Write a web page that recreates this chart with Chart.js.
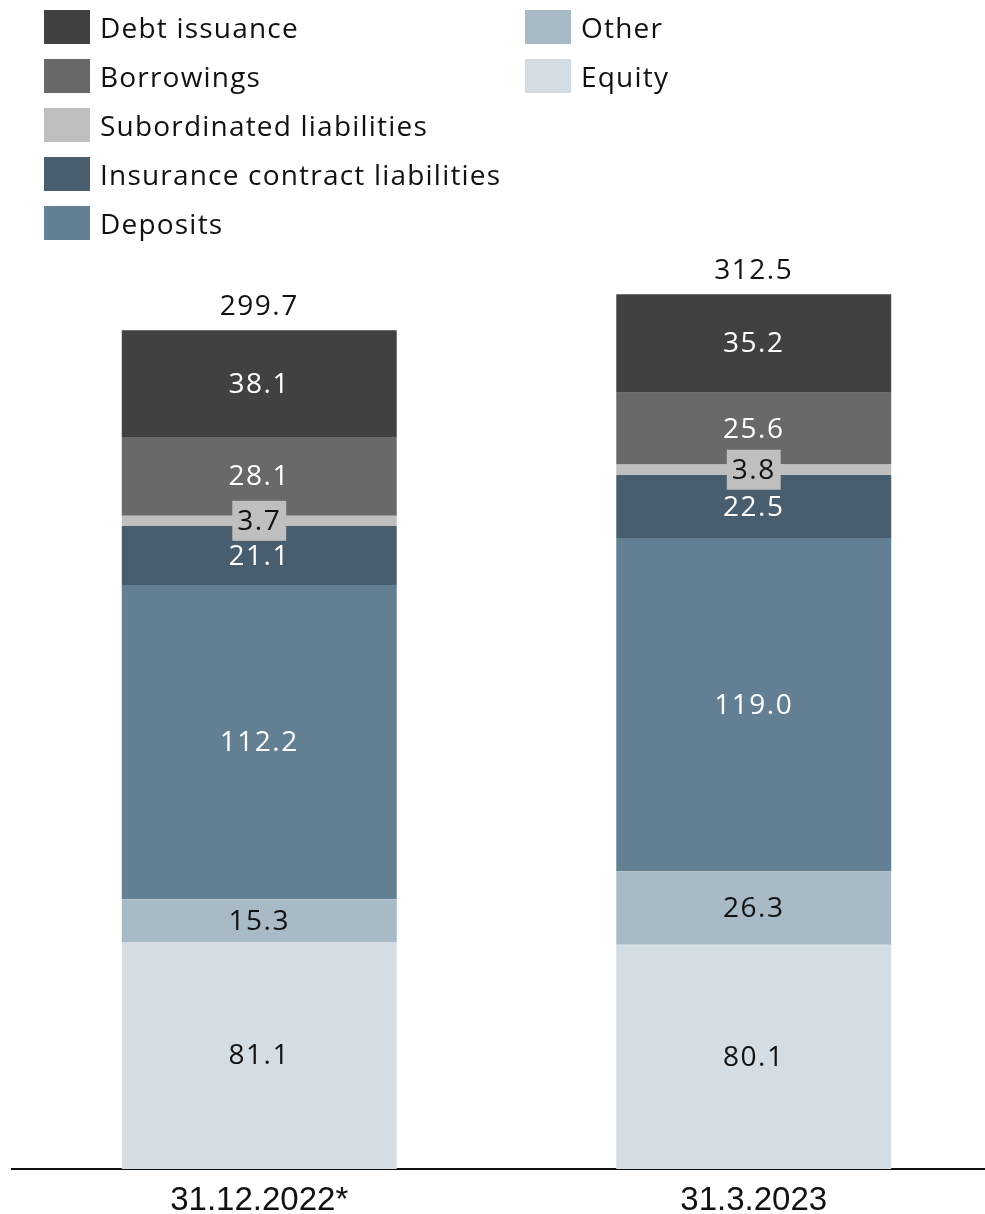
<!DOCTYPE html>
<html>
<head>
<meta charset="utf-8">
<script src="https://cdn.jsdelivr.net/npm/chart.js@4"></script>
<style>
  html, body { margin: 0; padding: 0; background: #fff; overflow: hidden; }
  .wrap { position: relative; width: 1001px; height: 1214px; }
  .legend { position: absolute; top: 10px; left: 44px; font-family: "Open Sans", Lato, sans-serif; font-size: 28px; letter-spacing: 1.2px; color: #111; }
  .col { position: absolute; top: 0; }
  .item { display: flex; align-items: center; height: 34px; margin-bottom: 15px; white-space: nowrap; }
  .box { width: 46px; height: 34px; margin-right: 10px; flex: none; }
</style>
</head>
<body>
<div class="wrap">
  <canvas id="grafico" width="1001" height="1214"></canvas>
  <div class="legend" id="legenda"></div>
</div>
<script>
const categorias = ['31.12.2022*', '31.3.2023'];

const equity = [81.1, 80.1];
const other = [15.3, 26.3];
const deposits = [112.2, 119.0];
const insurance = [21.1, 22.5];
const subordinated = [3.7, 3.8];
const borrowings = [28.1, 25.6];
const debt = [38.1, 35.2];
const totais = [299.7, 312.5];

// ordem de empilhamento: de baixo para cima
const series = [
  { nome: 'Equity', dados: equity, cor: '#d4dde4', texto: '#111' },
  { nome: 'Other', dados: other, cor: '#a8bac6', texto: '#111' },
  { nome: 'Deposits', dados: deposits, cor: '#627f94', texto: '#fff' },
  { nome: 'Insurance contract liabilities', dados: insurance, cor: '#485d6d', texto: '#fff' },
  { nome: 'Subordinated liabilities', dados: subordinated, cor: '#bfbfbf', texto: '#111', caixa: true },
  { nome: 'Borrowings', dados: borrowings, cor: '#696969', texto: '#fff' },
  { nome: 'Debt issuance', dados: debt, cor: '#414141', texto: '#fff' },
];

// legenda em duas colunas
const colunas = [
  ['Debt issuance', 'Borrowings', 'Subordinated liabilities', 'Insurance contract liabilities', 'Deposits'],
  ['Other', 'Equity'],
];
const legenda = document.getElementById('legenda');
colunas.forEach((nomes, i) => {
  const col = document.createElement('div');
  col.className = 'col';
  col.style.left = (i * 481) + 'px';
  nomes.forEach(nome => {
    const s = series.find(x => x.nome === nome);
    const item = document.createElement('div');
    item.className = 'item';
    const box = document.createElement('span');
    box.className = 'box';
    box.style.background = s.cor;
    item.appendChild(box);
    item.appendChild(document.createTextNode(nome));
    col.appendChild(item);
  });
  legenda.appendChild(col);
});

const fonteRotulo = '28px "Open Sans", Lato, sans-serif';

const rotulos = {
  id: 'rotulos',
  afterDatasetsDraw(chart) {
    const ctx = chart.ctx;
    ctx.save();
    ctx.font = fonteRotulo;
    ctx.letterSpacing = '1.5px';
    ctx.textAlign = 'center';
    ctx.textBaseline = 'middle';
    chart.data.datasets.forEach((ds, i) => {
      const meta = chart.getDatasetMeta(i);
      const s = series[i];
      meta.data.forEach((bar, j) => {
        const meio = (bar.y + bar.base) / 2;
        const txt = ds.data[j].toFixed(1);
        if (s.caixa) {
          const w = ctx.measureText(txt).width + 10;
          ctx.fillStyle = s.cor;
          ctx.fillRect(bar.x - w / 2, meio - 20, w, 40);
        }
        ctx.fillStyle = s.texto;
        ctx.fillText(txt, bar.x, meio + 1);
      });
    });
    const topo = chart.getDatasetMeta(chart.data.datasets.length - 1);
    topo.data.forEach((bar, j) => {
      ctx.fillStyle = '#111';
      ctx.fillText(totais[j].toFixed(1), bar.x, bar.y - 23);
    });
    ctx.restore();
  }
};

new Chart(document.getElementById('grafico'), {
  type: 'bar',
  data: {
    labels: categorias,
    datasets: series.map(s => ({
      label: s.nome,
      data: s.dados,
      backgroundColor: s.cor,
      borderWidth: 0,
      categoryPercentage: 1,
      barPercentage: 0.556,
    }))
  },
  options: {
    responsive: false,
    animation: false,
    layout: { padding: { top: 250, left: 12, right: 0, bottom: 0 } },
    plugins: { legend: { display: false }, tooltip: { enabled: false } },
    scales: {
      x: {
        stacked: true,
        afterFit: (scale) => { scale.height = 45; },
        grid: { display: false, drawTicks: false },
        border: { display: true, color: '#111', width: 2 },
        ticks: {
          padding: 12,
          color: '#111',
          font: { family: '"Liberation Sans", Arial, sans-serif', size: 33 }
        }
      },
      y: {
        stacked: true,
        display: false,
        min: 0,
        max: 328.3
      }
    }
  },
  plugins: [rotulos]
});
</script>
</body>
</html>
